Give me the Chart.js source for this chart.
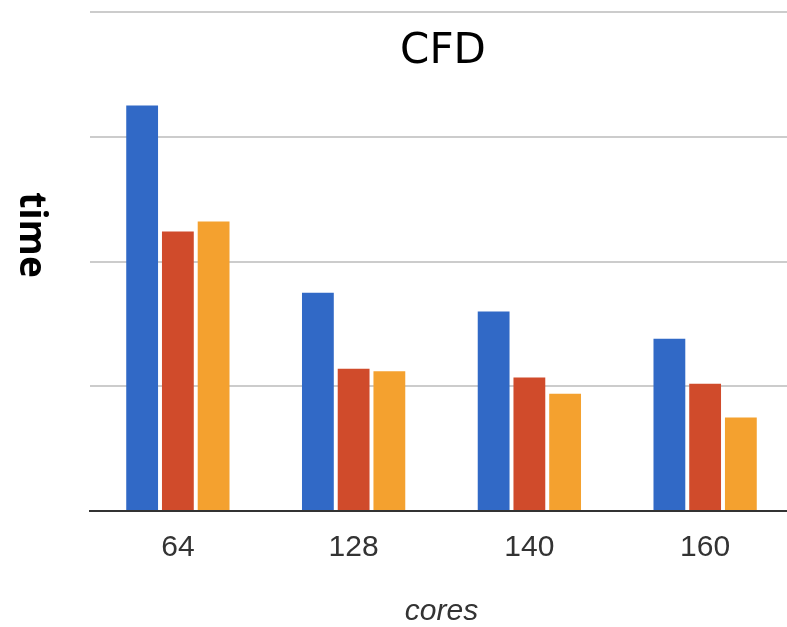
<!DOCTYPE html>
<html>
<head>
<meta charset="utf-8">
<script src="https://cdn.jsdelivr.net/npm/chart.js@4/dist/chart.umd.min.js"></script>
<style>
  html, body { margin: 0; padding: 0; background: #fff; overflow: hidden; }
</style>
</head>
<body>
<canvas id="myChart" width="795" height="627"></canvas>
<script>
const categories = ['64', '128', '140', '160'];
const seriesA = [3.25, 1.75, 1.60, 1.38];
const seriesB = [2.24, 1.14, 1.07, 1.02];
const seriesC = [2.32, 1.12, 0.94, 0.75];
const yTicks = [0, 1, 2, 3, 4];

// title and rotated y label drawn by hand
const labelsPlugin = {
  id: 'labels',
  afterDraw(chart) {
    const ctx = chart.ctx;
    ctx.save();
    ctx.fillStyle = '#000';
    ctx.textAlign = 'center';
    ctx.textBaseline = 'middle';
    ctx.font = '42px "DejaVu Sans"';
    ctx.fillText('CFD', 443, 52);
    ctx.translate(31, 235);
    ctx.rotate(Math.PI / 2);
    ctx.font = 'bold 37px "Open Sans"';
    ctx.fillText('time', 0, 0);
    ctx.restore();
  }
};

const ctx = document.getElementById('myChart');

const chartData = {
  labels: categories,
  datasets: [
    { label: 'A', data: seriesA, backgroundColor: '#3169c6' },
    { label: 'B', data: seriesB, backgroundColor: '#d04b2b' },
    { label: 'C', data: seriesC, backgroundColor: '#f4a12f' }
  ]
};

new Chart(ctx, {
  type: 'bar',
  data: chartData,
  options: {
    responsive: false,
    animation: false,
    layout: { padding: { top: 12, left: 90, right: 2, bottom: 0 } },
    datasets: { bar: { categoryPercentage: 0.61, barPercentage: 0.89 } },
    plugins: {
      legend: { display: false },
      tooltip: { enabled: false }
    },
    scales: {
      x: {
        grid: { display: false },
        border: { color: '#333', width: 2 },
        ticks: { color: '#333', font: { family: 'Liberation Sans', size: 30 }, padding: 11 },
        title: {
          display: true,
          text: 'cores',
          color: '#333',
          font: { family: 'Liberation Sans', size: 30, style: 'italic', lineHeight: 1.0 },
          padding: { top: 30, bottom: 0 }
        },
        afterFit(scale) { scale.height = 116; }
      },
      y: {
        min: 0,
        max: 4,
        afterBuildTicks(scale) { scale.ticks = yTicks.map(v => ({ value: v })); },
        ticks: { display: false },
        grid: { color: '#cccccc', lineWidth: 2, drawTicks: false },
        border: { display: false },
        afterFit(scale) { scale.width = 0; }
      }
    }
  },
  plugins: [labelsPlugin]
});
</script>
</body>
</html>
